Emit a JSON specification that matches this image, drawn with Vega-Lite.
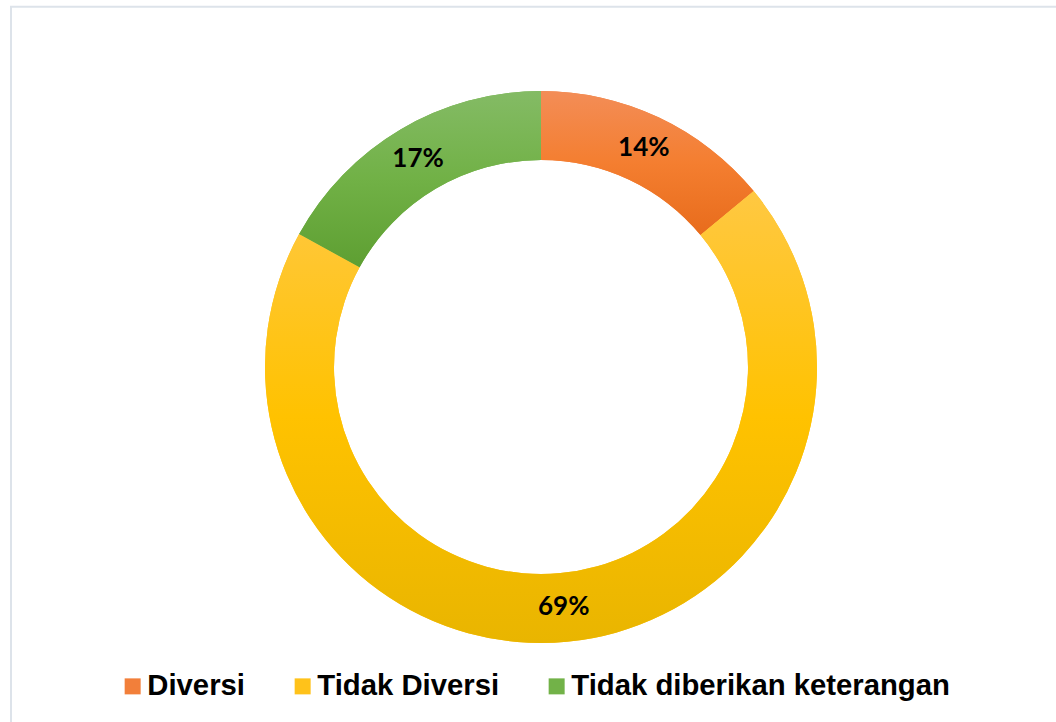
{
  "$schema": "https://vega.github.io/schema/vega-lite/v6.json",
  "width": 1060,
  "height": 720.6,
  "padding": {"left": 10, "top": 5.7, "right": 0, "bottom": 0},
  "background": "white",
  "config": {"view": {"stroke": null}},
  "data": {
    "values": [
      {"no": 1, "kategori": "Diversi", "persen": 14, "label": "14%"},
      {"no": 2, "kategori": "Tidak Diversi", "persen": 69, "label": "69%"},
      {"no": 3, "kategori": "Tidak diberikan keterangan", "persen": 17, "label": "17%"}
    ]
  },
  "layer": [
    {
      "data": {"values": [{"frame": 1}]},
      "mark": {"type": "rect", "fill": null, "stroke": "#dde3ea", "strokeWidth": 2},
      "encoding": {}
    },
    {
      "mark": {"type": "arc", "outerRadius": 276, "innerRadius": 207, "stroke": null},
      "encoding": {
        "theta": {"field": "persen", "type": "quantitative", "stack": true},
        "order": {"field": "no", "type": "quantitative"},
        "color": {
          "field": "kategori",
          "type": "nominal",
          "scale": {
            "domain": ["Diversi", "Tidak Diversi", "Tidak diberikan keterangan"],
            "range": ["#F27F3A", "#FFC21A", "#72B248"]
          },
          "legend": {
            "title": null,
            "orient": "none",
            "legendX": 107,
            "legendY": 665,
            "direction": "horizontal",
            "padding": 0,
            "symbolType": "square",
            "symbolSize": 256,
            "symbolStrokeWidth": 0,
            "symbolOpacity": 1,
            "labelFont": "Liberation Sans",
            "labelFontWeight": "bold",
            "labelFontSize": 29.3,
            "labelColor": "#000000",
            "labelOffset": 0,
            "labelLimit": 600,
            "columnPadding": 42
          }
        }
      }
    },
    {
      "mark": {"type": "arc", "outerRadius": 276, "innerRadius": 207, "stroke": null},
      "encoding": {
        "theta": {"field": "persen", "type": "quantitative", "stack": true},
        "order": {"field": "no", "type": "quantitative"},
        "detail": {"field": "kategori", "type": "nominal"},
        "fill": {
          "condition": [
            {"test": "datum.kategori === 'Diversi'", "value": {"gradient": "linear", "x1": 0, "y1": 0, "x2": 0, "y2": 1, "stops": [{"offset": 0, "color": "#F38D57"}, {"offset": 0.5, "color": "#F47E30"}, {"offset": 1, "color": "#E86C1C"}]}},
            {"test": "datum.kategori === 'Tidak Diversi'", "value": {"gradient": "linear", "x1": 0, "y1": 0, "x2": 0, "y2": 1, "stops": [{"offset": 0, "color": "#FFC842"}, {"offset": 0.5, "color": "#FFC200"}, {"offset": 1, "color": "#E9B500"}]}}
          ],
          "value": {"gradient": "linear", "x1": 0, "y1": 0, "x2": 0, "y2": 1, "stops": [{"offset": 0, "color": "#84BB65"}, {"offset": 0.5, "color": "#71B146"}, {"offset": 1, "color": "#5E9F32"}]}
        }
      }
    },
    {
      "mark": {"type": "text", "radius": 241.5, "font": "Lato", "fontWeight": "bold", "fontSize": 26, "color": "#000000", "baseline": "middle", "align": "center"},
      "encoding": {
        "theta": {"field": "persen", "type": "quantitative", "stack": true},
        "order": {"field": "no", "type": "quantitative"},
        "detail": {"field": "kategori", "type": "nominal"},
        "text": {"field": "label", "type": "nominal"}
      }
    }
  ]
}
